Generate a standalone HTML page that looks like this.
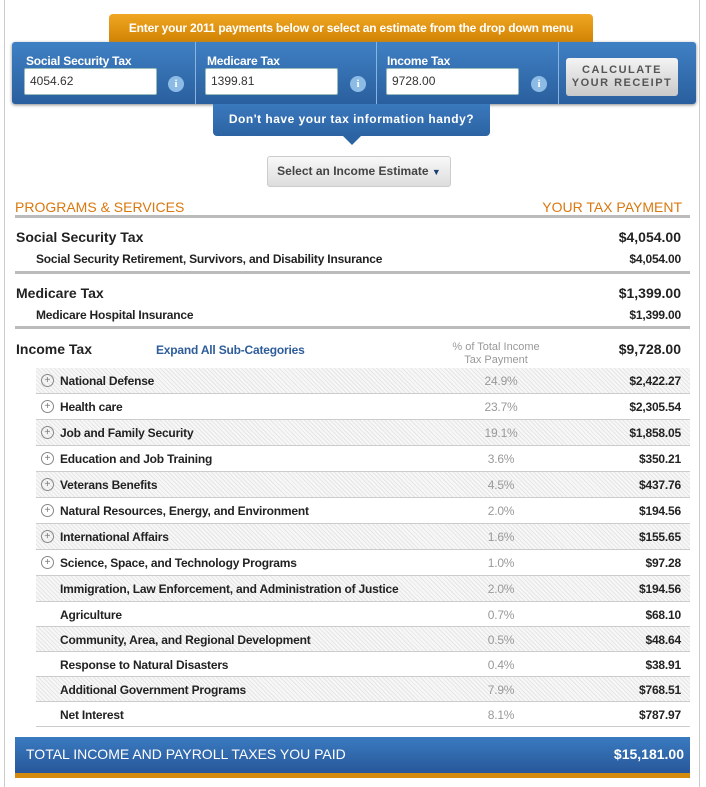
<!DOCTYPE html>
<html><head><meta charset="utf-8"><style>
*{margin:0;padding:0;box-sizing:border-box}
body{width:706px;height:787px;background:#fff;font-family:"Liberation Sans",Arial,sans-serif;position:relative;overflow:hidden;color:#222}
.a{position:absolute}
.frame{left:4px;top:0;width:696px;height:787px;border-left:1px solid #ccc;border-right:1px solid #ccc}
.tab{left:109px;top:14px;width:484px;height:30px;background:linear-gradient(#f0a623,#cf8100);border-radius:4px 4px 0 0;color:#fff;font-weight:bold;font-size:12px;text-align:center;line-height:28px;letter-spacing:-0.2px}
.bar{left:12px;top:42px;width:684px;height:62px;background:linear-gradient(#3f80c4,#2a5f9e);border-radius:3px;box-shadow:0 1px 3px #888}
.div{top:42px;width:1px;height:62px;background:#8ab4e0}
.lbl{color:#fff;font-weight:bold;font-size:12px;letter-spacing:-0.2px}
.inp{height:27px;width:133px;background:#fff;border:1px solid #9bb;border-radius:2px;font-size:12px;color:#333;line-height:25px;padding-left:5px}
.info{width:16px;height:16px;border-radius:50%;background:#8cbbe6;color:#fff;font-size:11px;font-weight:bold;text-align:center;line-height:16px;font-family:"Liberation Serif",serif}
.btn{left:566px;top:58px;width:112px;height:38px;background:linear-gradient(#f4f4f4,#c9c9c9);border-radius:3px;color:#555;font-weight:bold;font-size:11px;letter-spacing:1.5px;text-align:center;line-height:13px;padding-top:6px}
.tip{left:213px;top:104px;width:277px;height:32px;background:linear-gradient(#3a79bd,#2c63a3);border-radius:0 0 4px 4px;color:#fff;font-size:12px;font-weight:bold;text-align:center;line-height:30px;letter-spacing:.5px}
.arrow{left:343px;top:136px;width:0;height:0;border-left:9px solid transparent;border-right:9px solid transparent;border-top:9px solid #2c63a3}
.sel{left:267px;top:156px;width:184px;height:31px;background:linear-gradient(#f8f8f8,#ddd);border:1px solid #ccc;border-radius:3px;font-size:12px;font-weight:bold;color:#444;text-align:center;line-height:29px}
.hdr{color:#d9780f;font-size:14px}
.rule{left:15px;width:675px;height:3px;background:#bbb}
.big{font-size:14px;font-weight:bold}
.sub{font-size:12px;font-weight:bold;color:#222;letter-spacing:-0.2px}
.row{left:36px;width:654px;border-bottom:1px solid #ccc;font-size:12px;font-weight:bold;letter-spacing:-0.2px}
.row.s{background:repeating-linear-gradient(45deg,#e6e6e6 0 1px,#f7f7f7 1px 3px)}
.row .n{position:absolute;left:24px}
.row .p{position:absolute;left:430px;width:70px;text-align:center;color:#999;font-weight:normal}
.row .v{position:absolute;right:9px}
.plus{position:absolute;left:5px;width:13px;height:13px;border:1px solid #888;border-radius:50%;font-size:10px;line-height:11px;text-align:center;color:#777;font-weight:normal}
.total{left:15px;top:737px;width:675px;height:36px;background:linear-gradient(#3a7bc0,#28579a);color:#fff;font-size:14px;line-height:34px;padding:0 6px 0 11px}
.ob{left:15px;top:773px;width:675px;height:5px;background:#d38a0d}
</style></head><body>
<div class="a frame"></div>
<div class="a tab">Enter your 2011 payments below or select an estimate from the drop down menu</div>
<div class="a bar"></div>
<div class="a div" style="left:195px"></div>
<div class="a div" style="left:376px"></div>
<div class="a div" style="left:558px"></div>
<div class="a lbl" style="left:26px;top:54px">Social Security Tax</div>
<div class="a lbl" style="left:207px;top:54px">Medicare Tax</div>
<div class="a lbl" style="left:387px;top:54px">Income Tax</div>
<div class="a inp" style="left:24px;top:68px">4054.62</div>
<div class="a inp" style="left:205px;top:68px">1399.81</div>
<div class="a inp" style="left:386px;top:68px">9728.00</div>
<div class="a info" style="left:168px;top:76px">i</div>
<div class="a info" style="left:350px;top:76px">i</div>
<div class="a info" style="left:531px;top:76px">i</div>
<div class="a btn">CALCULATE<br>YOUR RECEIPT</div>
<div class="a tip">Don't have your tax information handy?</div>
<div class="a arrow"></div>
<div class="a sel">Select an Income Estimate <span style="color:#1d3f75;font-size:9px">▼</span></div>
<div class="a hdr" style="left:15px;top:199px">PROGRAMS &amp; SERVICES</div>
<div class="a hdr" style="right:24px;top:199px">YOUR TAX PAYMENT</div>
<div class="a rule" style="top:215px"></div>
<div class="a big" style="left:16px;top:229px">Social Security Tax</div>
<div class="a big" style="right:25px;top:229px">$4,054.00</div>
<div class="a sub" style="left:36px;top:252px">Social Security Retirement, Survivors, and Disability Insurance</div>
<div class="a sub" style="right:25px;top:252px">$4,054.00</div>
<div class="a rule" style="top:271px"></div>
<div class="a big" style="left:16px;top:285px">Medicare Tax</div>
<div class="a big" style="right:25px;top:285px">$1,399.00</div>
<div class="a sub" style="left:36px;top:308px">Medicare Hospital Insurance</div>
<div class="a sub" style="right:25px;top:308px">$1,399.00</div>
<div class="a rule" style="top:326px"></div>
<div class="a big" style="left:16px;top:341px">Income Tax</div>
<div class="a" style="left:156px;top:343px;font-size:12px;font-weight:bold;color:#2e5d9a;letter-spacing:-0.2px">Expand All Sub-Categories</div>
<div class="a" style="left:440px;top:341px;width:112px;text-align:center;font-size:11px;color:#999;line-height:13px">% of Total Income<br>Tax Payment</div>
<div class="a big" style="right:25px;top:341px">$9,728.00</div>
<div id="rows"></div>
<div class="a total"><span>TOTAL INCOME AND PAYROLL TAXES YOU PAID</span><b style="float:right">$15,181.00</b></div>
<div class="a ob"></div>
<script>
const names=["National Defense","Health care","Job and Family Security","Education and Job Training","Veterans Benefits","Natural Resources, Energy, and Environment","International Affairs","Science, Space, and Technology Programs","Immigration, Law Enforcement, and Administration of Justice","Agriculture","Community, Area, and Regional Development","Response to Natural Disasters","Additional Government Programs","Net Interest"];
const pcts=["24.9%","23.7%","19.1%","3.6%","4.5%","2.0%","1.6%","1.0%","2.0%","0.7%","0.5%","0.4%","7.9%","8.1%"];
const vals=["$2,422.27","$2,305.54","$1,858.05","$350.21","$437.76","$194.56","$155.65","$97.28","$194.56","$68.10","$48.64","$38.91","$768.51","$787.97"];
const expandable=[1,1,1,1,1,1,1,1,0,0,0,0,0,0];
const c=document.getElementById('rows');
let y=368;
names.forEach((n,i)=>{
  const h=i<9?26:25;
  const r=document.createElement('div');
  
  
  r.className='a row'+(i%2===0?' s':'');
  r.style.top=y+'px';r.style.height=h+'px';
  const t=Math.round((h-14)/2);
  r.innerHTML=(expandable[i]?'<span class="plus" style="top:'+(t)+'px">+</span>':'')+
   '<span class="n" style="top:'+t+'px">'+n+'</span><span class="p" style="top:'+t+'px">'+pcts[i]+'</span><span class="v" style="top:'+t+'px">'+vals[i]+'</span>';
  c.appendChild(r);
  y+=h;
});
</script>
</body></html>
